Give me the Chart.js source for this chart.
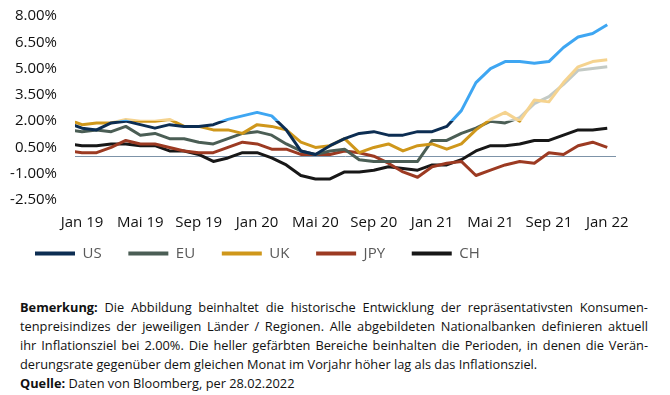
<!DOCTYPE html>
<html lang="de">
<head>
<meta charset="utf-8">
<script src="https://cdn.jsdelivr.net/npm/chart.js@4.4.1/dist/chart.umd.min.js"></script>
<style>
  html, body { margin: 0; padding: 0; background: #fff; }
  body { width: 670px; height: 395px; position: relative; overflow: hidden; font-family: "Open Sans", sans-serif; }
  #wrap { position: absolute; left: 0; top: 0; width: 670px; height: 271px; }
  #note { position: absolute; left: 20px; top: 298px; width: 628px; font-size: 12.8px; line-height: 19px; color: #111; }
  #note div { white-space: nowrap; }
  #note .j { text-align: justify; text-align-last: justify; }
</style>
</head>
<body>
<div id="wrap"><canvas id="cpi"></canvas></div>
<div id="note">
  <div class="j"><b>Bemerkung:</b> Die Abbildung beinhaltet die historische Entwicklung der repräsentativsten Konsumen-</div>
  <div class="j">tenpreisindizes der jeweiligen Länder / Regionen. Alle abgebildeten Nationalbanken definieren aktuell</div>
  <div class="j">ihr Inflationsziel bei 2.00%. Die heller gefärbten Bereiche beinhalten die Perioden, in denen die Verän-</div>
  <div>derungsrate gegenüber dem gleichen Monat im Vorjahr höher lag als das Inflationsziel.</div>
  <div><b>Quelle:</b> Daten von Bloomberg, per 28.02.2022</div>
</div>
<script>
// Monate Dez 18 .. Jan 22 (Dez 18 liegt links ausserhalb und wird abgeschnitten)
const months = ['Dez 18',
  'Jan 19','Feb 19','Mär 19','Apr 19','Mai 19','Jun 19','Jul 19','Aug 19','Sep 19','Okt 19','Nov 19','Dez 19',
  'Jan 20','Feb 20','Mär 20','Apr 20','Mai 20','Jun 20','Jul 20','Aug 20','Sep 20','Okt 20','Nov 20','Dez 20',
  'Jan 21','Feb 21','Mär 21','Apr 21','Mai 21','Jun 21','Jul 21','Aug 21','Sep 21','Okt 21','Nov 21','Dez 21',
  'Jan 22'];

const us  = [1.9, 1.6,1.5,1.9,2.0,1.8,1.6,1.8,1.7,1.7,1.8,2.1,2.3, 2.5,2.3,1.5,0.3,0.1,0.6,1.0,1.3,1.4,1.2,1.2,1.4, 1.4,1.7,2.6,4.2,5.0,5.4,5.4,5.3,5.4,6.2,6.8,7.0, 7.5];
const eu  = [1.5, 1.4,1.5,1.4,1.7,1.2,1.3,1.0,1.0,0.8,0.7,1.0,1.3, 1.4,1.2,0.7,0.3,0.1,0.3,0.4,-0.2,-0.3,-0.3,-0.3,-0.3, 0.9,0.9,1.3,1.6,2.0,1.9,2.2,3.0,3.4,4.1,4.9,5.0, 5.1];
const uk  = [2.1, 1.8,1.9,1.9,2.1,2.0,2.0,2.1,1.7,1.7,1.5,1.5,1.3, 1.8,1.7,1.5,0.8,0.5,0.6,1.0,0.2,0.5,0.7,0.3,0.6, 0.7,0.4,0.7,1.5,2.1,2.5,2.0,3.2,3.1,4.2,5.1,5.4, 5.5];
const jpy = [0.3, 0.2,0.2,0.5,0.9,0.7,0.7,0.5,0.3,0.2,0.2,0.5,0.8, 0.7,0.4,0.4,0.1,0.1,0.1,0.3,0.2,0.0,-0.4,-0.9,-1.2, -0.6,-0.4,-0.3,-1.1,-0.8,-0.5,-0.3,-0.4,0.2,0.1,0.6,0.8, 0.5];
const ch  = [0.7, 0.6,0.6,0.7,0.7,0.6,0.6,0.3,0.3,0.1,-0.3,-0.1,0.2, 0.2,-0.1,-0.5,-1.1,-1.3,-1.3,-0.9,-0.9,-0.8,-0.6,-0.7,-0.8, -0.5,-0.5,-0.2,0.3,0.6,0.6,0.7,0.9,0.9,1.2,1.5,1.5, 1.6];

const names = ['US', 'EU', 'UK', 'JPY', 'CH'];
const series = [us, eu, uk, jpy, ch];
const darkColors  = ['#0c2d52', '#4b5e55', '#cf971b', '#9c3a22', '#171717'];
const lightColors = ['#3ea6f2', '#c3cac5', '#f5d38f', '#e6a28c', '#9a9a9a'];
const drawOrder = [0, 2, 1, 3, 4];
const target = 2.0;

// oberhalb des Inflationsziels heller einfärben
function splitColor(i) {
  return function (ctx) {
    const chart = ctx.chart;
    const area = chart.chartArea;
    if (!area) return darkColors[i];
    const yT = chart.scales.y.getPixelForValue(target);
    let t = (yT - area.top) / (area.bottom - area.top);
    t = Math.min(Math.max(t, 0), 1);
    const g = chart.ctx.createLinearGradient(0, area.top, 0, area.bottom);
    g.addColorStop(0, lightColors[i]);
    g.addColorStop(t, lightColors[i]);
    g.addColorStop(t, darkColors[i]);
    g.addColorStop(1, darkColors[i]);
    return g;
  };
}

const zeroLine = {
  id: 'zeroLine',
  beforeDatasetsDraw(chart) {
    const { ctx, chartArea, scales } = chart;
    const y = Math.round(scales.y.getPixelForValue(0)) + 0.5;
    ctx.save();
    ctx.strokeStyle = '#7d93a8';
    ctx.lineWidth = 1;
    ctx.beginPath();
    ctx.moveTo(chartArea.left, y);
    ctx.lineTo(chartArea.right, y);
    ctx.stroke();
    ctx.restore();
  }
};

// Legende etwas nach rechts ruecken
const legendShift = {
  id: 'legendShift',
  afterLayout(chart) {
    chart.legend.left += 20;
    chart.legend.right += 20;
  }
};

new Chart(document.getElementById('cpi'), {
  type: 'line',
  data: {
    datasets: series.map((vals, i) => ({
      label: names[i],
      data: vals.map((v, k) => ({ x: k - 1, y: v })),
      borderColor: splitColor(i),
      borderWidth: 3,
      borderJoinStyle: 'round',
      pointRadius: 0,
      tension: 0,
      clip: 0,
      order: drawOrder[i]
    }))
  },
  options: {
    responsive: true,
    maintainAspectRatio: false,
    animation: false,
    layout: { padding: { left: 0, right: 54, top: 16, bottom: 0 } },
    scales: {
      x: {
        type: 'linear',
        min: -0.48,
        max: 36.6,
        grid: { display: false, drawTicks: false },
        border: { display: false },
        afterFit: s => { s.height = 31; },
        ticks: {
          stepSize: 4,
          includeBounds: false,
          autoSkip: false,
          maxRotation: 0,
          padding: 14,
          color: '#111',
          font: { family: 'Open Sans', size: 15 },
          callback: v => (v % 4 === 0 ? months[v + 1] : '')
        }
      },
      y: {
        min: -2.5,
        max: 8,
        grid: { display: false, drawTicks: false },
        border: { display: false },
        afterFit: s => { s.width = 75; s.paddingTop = 0; s.paddingBottom = 0; },
        ticks: {
          stepSize: 1.5,
          padding: 18,
          color: '#111',
          font: { family: 'Open Sans', size: 15 },
          callback: v => v.toFixed(2) + '%'
        }
      }
    },
    plugins: {
      tooltip: { enabled: false },
      legend: {
        position: 'bottom',
        align: 'start',
        labels: {
          boxWidth: 40,
          boxHeight: 4,
          padding: 15,
          color: '#595959',
          font: { family: 'Open Sans', size: 15 },
          generateLabels: chart => chart.data.datasets.map((ds, i) => ({
            text: ds.label + '   ',
            fillStyle: darkColors[i],
            strokeStyle: darkColors[i],
            lineWidth: 0,
            fontColor: '#595959',
            hidden: false,
            datasetIndex: i
          }))
        }
      }
    }
  },
  plugins: [zeroLine, legendShift]
});
</script>
</body>
</html>
